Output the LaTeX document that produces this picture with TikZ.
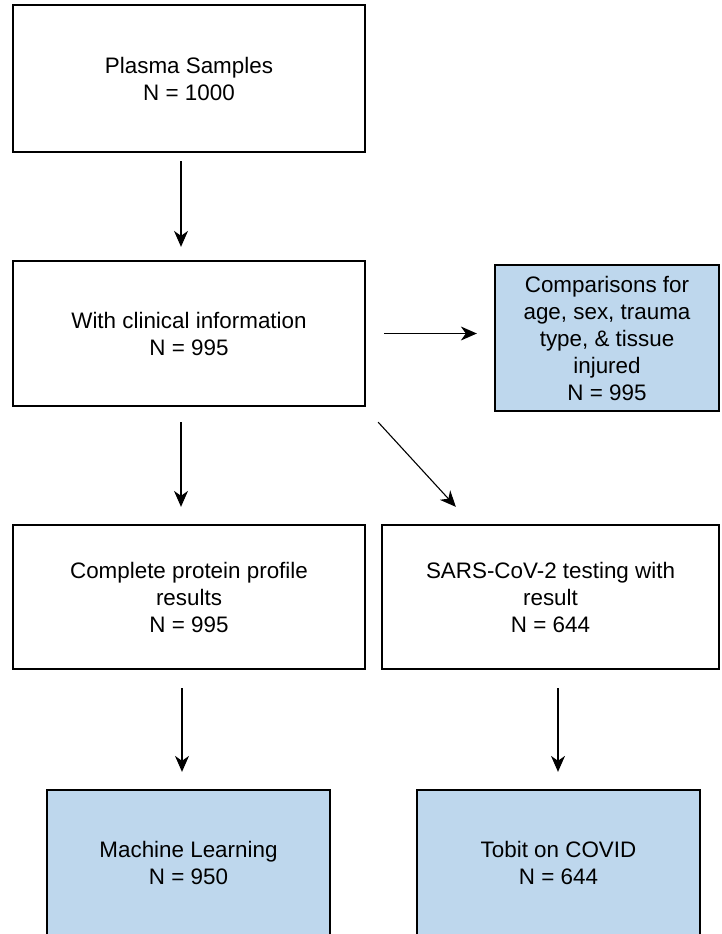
\documentclass[tikz,border=0pt]{standalone}
\usepackage{fontspec}
\setmainfont{Liberation Sans}
\usetikzlibrary{arrows.meta}
\definecolor{boxblue}{RGB}{190,215,237}
\begin{document}
\begin{tikzpicture}[x=1pt,y=-1pt,
  box/.style={draw=black, line width=2.3pt, fill=white, align=center, inner sep=0pt,
    font=\fontsize{22.4}{27}\selectfont},
  bluebox/.style={box, fill=boxblue},
  arr/.style={line width=1.1pt, -{Stealth[length=16pt,width=14pt,inset=5pt]}}]
\useasboundingbox (0,0) rectangle (721,934);
\node[box, minimum width=352pt, minimum height=147pt] (b1) at (189,78.5) {Plasma Samples\\N = 1000};
\node[box, minimum width=352pt, minimum height=145pt] (b2) at (189,333.5) {With clinical information\\N = 995};
\node[bluebox, minimum width=224pt, minimum height=146pt] (b3) at (607,338) {Comparisons for\\age, sex, trauma\\type, \& tissue\\injured\\N = 995};
\node[box, minimum width=352pt, minimum height=144pt] (b4) at (189,597) {Complete protein profile\\results\\N = 995};
\node[box, minimum width=337pt, minimum height=144pt] (b5) at (550.5,597) {SARS-CoV-2 testing with\\result\\N = 644};
\node[bluebox, minimum width=283pt, minimum height=146pt] (b6) at (188.5,863) {Machine Learning\\N = 950};
\node[bluebox, minimum width=283pt, minimum height=146pt] (b7) at (558.5,863) {Tobit on COVID\\N = 644};
\draw[arr] ([xshift=-8pt,yshift=-8pt]b1.south) -- ([xshift=-8pt,yshift=13pt]b2.north);
\draw[arr] ([xshift=18pt]b2.east) -- ([xshift=-17pt,yshift=4.5pt]b3.west);
\draw[arr] ([xshift=-8pt,yshift=-15pt]b2.south) -- ([xshift=-8pt,yshift=17pt]b4.north);
\draw[arr] ([xshift=12pt,yshift=-15pt]b2.south east) -- ([xshift=75pt,yshift=17pt]b5.north west);
\draw[arr] ([xshift=-7pt,yshift=-18pt]b4.south) -- ([xshift=-6.5pt,yshift=17pt]b6.north);
\draw[arr] ([xshift=7.5pt,yshift=-18pt]b5.south) -- ([xshift=-0.5pt,yshift=17pt]b7.north);
\end{tikzpicture}
\end{document}
